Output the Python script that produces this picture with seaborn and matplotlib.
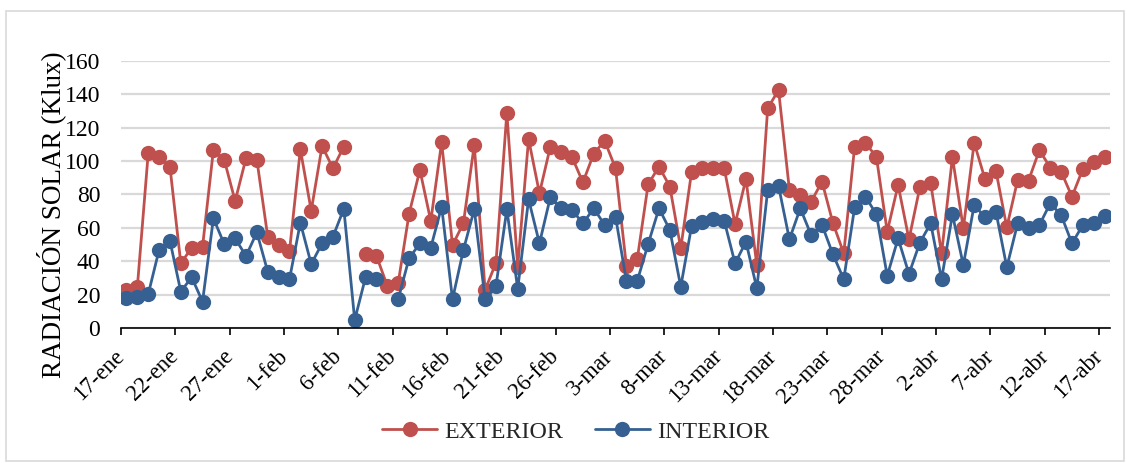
import numpy as np
import pandas as pd
import matplotlib
matplotlib.use("Agg")
import matplotlib.pyplot as plt
import matplotlib.transforms as mtransforms
from matplotlib.lines import Line2D
from matplotlib.patches import Rectangle
import seaborn as sns

# Daily solar radiation (Klux), 17-ene .. 17-abr; NaN = no reading
exterior = [22.8, 24.4, 104.6, 102.7, 96.7, 38.7, 48.1, 48.7, 106.7, 100.7,
            76.1, 101.7, 100.7, 54.7, 49.7, 46.1, 107.0, 70.3, 109.0, 95.7,
            108.7, np.nan, 44.1, 43.3, 25.2, 26.8, 68.3, 94.7, 64.1, 111.3,
            49.7, 62.7, 109.6, 22.8, 39.1, 129.0, 36.7, 113.2, 80.7, 108.6,
            105.2, 102.3, 87.3, 104.5, 112.2, 95.7, 37.1, 41.3, 86.1, 96.7,
            84.7, 47.7, 93.7, 96.1, 96.1, 95.7, 62.3, 89.3, 37.7, 131.6,
            142.6, 82.7, 79.7, 75.7, 87.7, 63.0, 44.7, 108.7, 110.7, 102.7,
            57.7, 85.7, 53.1, 84.3, 86.7, 44.7, 102.3, 59.7, 111.0, 89.1,
            94.3, 60.3, 88.7, 88.3, 106.6, 96.1, 93.7, 78.7, 95.3, 99.3,
            102.7]
interior = [17.8, 18.8, 20.2, 46.7, 52.3, 21.8, 30.4, 15.8, 65.7, 50.3,
            53.7, 43.1, 57.3, 33.7, 30.7, 29.2, 63.1, 38.3, 50.7, 54.7,
            71.4, 4.8, 30.4, 29.2, np.nan, 17.2, 41.7, 50.7, 48.1, 72.7,
            17.2, 46.7, 71.1, 17.2, 25.2, 71.1, 23.4, 77.1, 50.7, 78.3,
            71.7, 70.7, 62.7, 71.7, 61.7, 66.7, 28.2, 28.2, 50.3, 71.7,
            58.7, 24.7, 61.1, 63.7, 65.1, 64.3, 38.7, 51.7, 23.8, 82.7,
            85.1, 53.1, 71.7, 55.7, 61.7, 44.2, 29.2, 72.3, 78.7, 68.1,
            31.3, 53.7, 32.4, 51.1, 62.7, 29.2, 68.1, 37.7, 73.7, 66.3,
            69.7, 36.4, 62.7, 59.7, 61.7, 74.7, 67.7, 50.7, 61.7, 63.1,
            67.3]
tick_labels = ["17-ene", "22-ene", "27-ene", "1-feb", "6-feb", "11-feb",
               "16-feb", "21-feb", "26-feb", "3-mar", "8-mar", "13-mar",
               "18-mar", "23-mar", "28-mar", "2-abr", "7-abr", "12-abr",
               "17-abr"]
series_names = ["EXTERIOR", "INTERIOR"]
colors = {"EXTERIOR": "#c0504d", "INTERIOR": "#366092"}

# Long-format table; each unbroken run of readings becomes its own unit
frames = []
for name, vals in zip(series_names, [exterior, interior]):
    v = np.asarray(vals, dtype=float)
    seg = np.cumsum(np.isnan(v))
    frames.append(pd.DataFrame({"day": np.arange(len(v)), "klux": v,
                                "serie": name, "seg": [f"{name}-{s}" for s in seg]}))
df = pd.concat(frames).dropna(subset=["klux"]).reset_index(drop=True)

sns.set_theme(style="white")
plt.rcParams["font.family"] = ["Liberation Serif", "DejaVu Serif"]

fig = plt.figure(figsize=(11.29, 4.63), dpi=100)
ax = fig.add_axes([0.1072, 0.2916, 0.876, 0.5767])

sns.lineplot(data=df, x="day", y="klux", hue="serie", hue_order=series_names,
             units="seg", estimator=None, palette=colors, marker="o",
             markersize=11, markeredgewidth=0, linewidth=2.0, legend=False,
             ax=ax, sort=False)

n_days = len(exterior)
ax.set_xlim(-0.5, n_days - 0.5)
ax.set_ylim(0, 160)
ax.set_yticks(np.arange(0, 161, 20))
ax.set_xticks(np.arange(len(tick_labels)) * 5 - 0.5)
ax.set_xticklabels(tick_labels, rotation=45, ha="right", va="center",
                   rotation_mode="anchor", fontsize=16.5, color="#000000")
shift = mtransforms.ScaledTranslation(5 / 100, 0, fig.dpi_scale_trans)
for lbl in ax.get_xticklabels():
    lbl.set_transform(lbl.get_transform() + shift)
ax.tick_params(axis="x", direction="out", length=5, width=1.2, color="black",
               bottom=True, pad=13)
ax.tick_params(axis="y", length=0, labelsize=17, colors="black", pad=15)
ax.grid(axis="y", color="#d9d9d9", linewidth=1.6)
ax.set_axisbelow(True)
for side in ["top", "right", "left"]:
    ax.spines[side].set_visible(False)
ax.spines["bottom"].set_color("black")
ax.spines["bottom"].set_linewidth(1.2)
ax.set_xlabel("")
ax.set_ylabel("RADIACIÓN SOLAR (Klux)", fontsize=19.5, color="black")
ax.yaxis.set_label_coords(-0.0556, 0.423)

handles = [Line2D([], [], color=colors[n], marker="o", markersize=11,
                  markeredgewidth=0, linewidth=2.0) for n in series_names]
fig.legend(handles, series_names, loc="center", bbox_to_anchor=(0.51, 0.067),
           ncol=2, frameon=False, fontsize=17.3, handlelength=2.3,
           columnspacing=1.3, handletextpad=0.3)

# chart-area frame
fig.patches.append(Rectangle((6 / 1129, 2 / 463), 1118 / 1129, 450 / 463,
                             transform=fig.transFigure, fill=False,
                             edgecolor="#d9d9d9", linewidth=1.2))

fig.savefig("out.png", dpi=100)
